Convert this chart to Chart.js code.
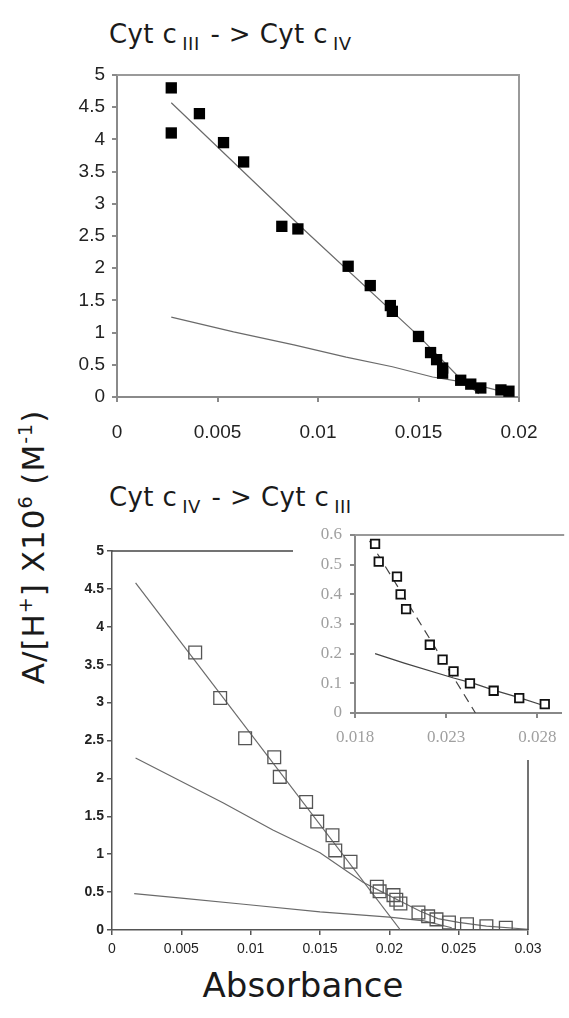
<!DOCTYPE html>
<html><head><meta charset="utf-8">
<script src="https://cdn.jsdelivr.net/npm/chart.js@4"></script>
<style>
html,body{margin:0;padding:0;background:#fff;width:569px;height:1018px;overflow:hidden;position:relative}
canvas{position:absolute}
.t{position:absolute;font-family:'DejaVu Sans',Lato,sans-serif;color:#1a1a1a;white-space:nowrap;line-height:1}
.ttl{font-size:26px;letter-spacing:0.4px}
.ttl sub{font-size:18px;vertical-align:-7px;margin-left:5px;margin-right:2px;letter-spacing:0.5px}
.yl{font-size:31px;letter-spacing:1px}
.yl sup{font-size:19px;vertical-align:12px}
</style></head><body>
<div class="t ttl" style="left:109px;top:21px">Cyt c<sub>III</sub> - &gt; Cyt c<sub>IV</sub></div>
<div class="t ttl" style="left:109px;top:484px">Cyt c<sub>IV</sub> - &gt; Cyt c<sub>III</sub></div>
<div class="t yl" style="left:32px;top:547px;transform:translate(-50%,-50%) rotate(-90deg)">A/[H<sup>+</sup>] X10<sup>6</sup> (M<sup>-1</sup>)</div>
<div class="t" style="left:303px;top:985px;font-size:34px;transform:translate(-50%,-50%)">Absorbance</div>
<canvas id="c1" width="569" height="460" style="left:0;top:0"></canvas>
<canvas id="c2" width="569" height="538" style="left:0;top:480px"></canvas>
<canvas id="c3" width="279" height="245" style="left:290px;top:515px"></canvas>
<script>
// ---- Top panel: Cyt c III -> Cyt c IV ----
const topX = [0.0027,0.0027,0.0041,0.0053,0.0063,0.0082,0.0090,0.0115,0.0126,0.0136,0.0137,0.0150,0.0156,0.0159,0.0162,0.0162,0.0171,0.0176,0.0181,0.0191,0.0195];
const topY = [4.80,4.10,4.40,3.95,3.65,2.65,2.61,2.03,1.73,1.42,1.33,0.94,0.69,0.58,0.45,0.37,0.26,0.20,0.14,0.11,0.09];
const topFitSteepX = [0.0027,0.0094,0.0150,0.0170,0.0180];
const topFitSteepY = [4.57,2.57,0.95,0.31,0.05];
const topFitLowX = [0.0027,0.0058,0.0088,0.0114,0.0137,0.0157,0.0171,0.0182,0.0195];
const topFitLowY = [1.24,1.01,0.81,0.62,0.47,0.31,0.24,0.16,0.06];
const topXTicks = [0,0.005,0.01,0.015,0.02];
const topXLabels = ['0','0.005','0.01','0.015','0.02'];
const topYTicks = [0,0.5,1,1.5,2,2.5,3,3.5,4,4.5,5];
const topYLabels = ['0','0.5','1','1.5','2','2.5','3','3.5','4','4.5','5'];

// ---- Bottom panel: Cyt c IV -> Cyt c III ----
const botX = [0.0060,0.0078,0.0096,0.0117,0.0121,0.0140,0.0148,0.0159,0.0161,0.0172,0.0191,0.0193,0.0203,0.0205,0.0208,0.0221,0.0228,0.0234,0.0243,0.0256,0.0270,0.0284];
const botY = [3.66,3.06,2.53,2.28,2.02,1.69,1.43,1.25,1.05,0.90,0.57,0.51,0.46,0.40,0.35,0.23,0.18,0.14,0.10,0.075,0.05,0.03];
const botFitSteepX = [0.0017,0.0208];
const botFitSteepY = [4.58,0];
const botFitMidX = [0.0017,0.0080,0.0116,0.0150,0.0181,0.0195,0.0208,0.0222,0.0235,0.0250,0.0270,0.0300];
const botFitMidY = [2.27,1.68,1.32,1.02,0.63,0.50,0.38,0.25,0.15,0.10,0.05,0.01];
const botFitLowX = [0.0016,0.0050,0.0095,0.0150,0.0200,0.0225,0.0245];
const botFitLowY = [0.48,0.42,0.34,0.24,0.17,0.12,0.03];
const botXTicks = [0,0.005,0.01,0.015,0.02,0.025,0.03];
const botXLabels = ['0','0.005','0.01','0.015','0.02','0.025','0.03'];
const botYTicks = [0,0.5,1,1.5,2,2.5,3,3.5,4,4.5,5];
const botYLabels = ['0','0.5','1','1.5','2','2.5','3','3.5','4','4.5','5'];

// ---- Inset (zoom of bottom panel tail) ----
const insetFitSteepX = [0.0188,0.0246];
const insetFitSteepY = [0.58,0];
const insetFitLowX = [0.0191,0.0207,0.0234,0.0245,0.0256,0.0270,0.0285];
const insetFitLowY = [0.20,0.168,0.118,0.10,0.077,0.052,0.022];
const insetXTicks = [0.018,0.023,0.028];
const insetXLabels = ['0.018','0.023','0.028'];
const insetYTicks = [0,0.1,0.2,0.3,0.4,0.5,0.6];
const insetYLabels = ['0','0.1','0.2','0.3','0.4','0.5','0.6'];

const pts = (xs, ys) => xs.map((x, i) => ({x, y: ys[i]}));
const lineDs = (xs, ys, extra) => Object.assign({data: pts(xs, ys), showLine: true, pointRadius: 0, borderColor: '#6a6a6a', borderWidth: 1.2, fill: false, tension: 0, order: 2}, extra || {});

function axis(opts) {
  return {
    type: 'linear', min: opts.min, max: opts.max,
    afterBuildTicks: s => { s.ticks = opts.ticks.map(v => ({value: v})); },
    afterFit: s => { if (opts.w !== undefined) s.width = opts.w; if (opts.h !== undefined) s.height = opts.h; },
    grid: {drawOnChartArea: false, drawTicks: true, tickLength: 5, color: opts.color, lineWidth: opts.lw},
    border: {display: true, color: opts.color, width: opts.lw},
    ticks: {padding: opts.pad, color: opts.tcolor, font: opts.font, autoSkip: false, maxRotation: 0, callback: (v, i) => opts.labels[i]}
  };
}

function framePlugin(fn) {
  return {id: 'frame' + Math.random().toString(36).slice(2), afterDraw(chart) { const c = chart.ctx; c.save(); fn(c, chart.chartArea); c.restore(); }};
}

const common = {responsive: false, animation: false, events: [], plugins: {legend: {display: false}, tooltip: {enabled: false}}};

// Top chart
new Chart(document.getElementById('c1'), {
  type: 'scatter',
  data: {datasets: [
    lineDs(topFitSteepX, topFitSteepY),
    lineDs(topFitLowX, topFitLowY),
    {data: pts(topX, topY), pointStyle: 'rect', pointRadius: 8, backgroundColor: '#000', borderColor: '#000', borderWidth: 0, order: 1}
  ]},
  options: Object.assign({}, common, {
    layout: {padding: {top: 75, right: 50, left: 0, bottom: 0}},
    scales: {
      x: axis({min: 0, max: 0.02, ticks: topXTicks, labels: topXLabels, h: 63, color: '#8a8a8a', lw: 2, pad: 19, tcolor: '#222', font: {family: 'Liberation Sans, Arial, sans-serif', size: 19}}),
      y: axis({min: 0, max: 5, ticks: topYTicks, labels: topYLabels, w: 117, color: '#8a8a8a', lw: 2, pad: 7, tcolor: '#222', font: {family: 'Liberation Sans, Arial, sans-serif', size: 19}})
    }
  }),
  plugins: [framePlugin((c, a) => {
    c.strokeStyle = '#9a9a9a'; c.lineWidth = 2;
    c.beginPath(); c.moveTo(a.left, a.top); c.lineTo(a.right, a.top); c.lineTo(a.right, a.bottom); c.stroke();
  })]
});

// Bottom chart
new Chart(document.getElementById('c2'), {
  type: 'scatter',
  data: {datasets: [
    lineDs(botFitSteepX, botFitSteepY),
    lineDs(botFitMidX, botFitMidY),
    lineDs(botFitLowX, botFitLowY),
    {data: pts(botX, botY), pointStyle: 'rect', pointRadius: 9, backgroundColor: 'rgba(0,0,0,0)', borderColor: '#555', borderWidth: 1.3, order: 1}
  ]},
  options: Object.assign({}, common, {
    layout: {padding: {top: 71, right: 41, left: 0, bottom: 0}},
    scales: {
      x: axis({min: 0, max: 0.03, ticks: botXTicks, labels: botXLabels, h: 88, color: '#555', lw: 1.5, pad: 6, tcolor: '#222', font: {family: 'Liberation Sans, Arial, sans-serif', size: 14}}),
      y: axis({min: 0, max: 5, ticks: botYTicks, labels: botYLabels, w: 112, color: '#555', lw: 1.5, pad: 3, tcolor: '#222', font: {family: 'Liberation Sans, Arial, sans-serif', size: 14, weight: 'bold'}})
    }
  }),
  plugins: [framePlugin((c, a) => {
    c.strokeStyle = '#444'; c.lineWidth = 1.5;
    c.beginPath(); c.moveTo(a.left, a.top); c.lineTo(293, a.top); c.stroke();
    c.beginPath(); c.moveTo(a.right, 280); c.lineTo(a.right, a.bottom); c.stroke();
  })]
});

// Inset
const insetX = botX.filter(x => x >= 0.018);
const insetY = botY.filter((y, i) => botX[i] >= 0.018);
new Chart(document.getElementById('c3'), {
  type: 'scatter',
  data: {datasets: [
    lineDs(insetFitSteepX, insetFitSteepY, {borderColor: '#444', borderDash: [9, 6]}),
    lineDs(insetFitLowX, insetFitLowY, {borderColor: '#444'}),
    {data: pts(insetX, insetY), pointStyle: 'rect', pointRadius: 6, backgroundColor: '#fff', borderColor: '#111', borderWidth: 1.8, order: 1}
  ]},
  options: Object.assign({}, common, {
    layout: {padding: {top: 20, right: 3, left: 0, bottom: 0}},
    scales: {
      x: axis({min: 0.018, max: 0.0293, ticks: insetXTicks, labels: insetXLabels, h: 47, color: '#888', lw: 2, pad: 9, tcolor: '#a0a0a0', font: {family: 'Liberation Serif, Times New Roman, serif', size: 17}}),
      y: axis({min: 0, max: 0.6, ticks: insetYTicks, labels: insetYLabels, w: 65, color: '#888', lw: 2, pad: 8, tcolor: '#a0a0a0', font: {family: 'Liberation Serif, Times New Roman, serif', size: 17}})
    }
  }),
  plugins: [framePlugin((c, a) => {
    c.strokeStyle = '#999'; c.lineWidth = 2;
    c.beginPath(); c.moveTo(a.left, a.top); c.lineTo(a.right + 3, a.top); c.stroke();
  })]
});
</script>
</body></html>
